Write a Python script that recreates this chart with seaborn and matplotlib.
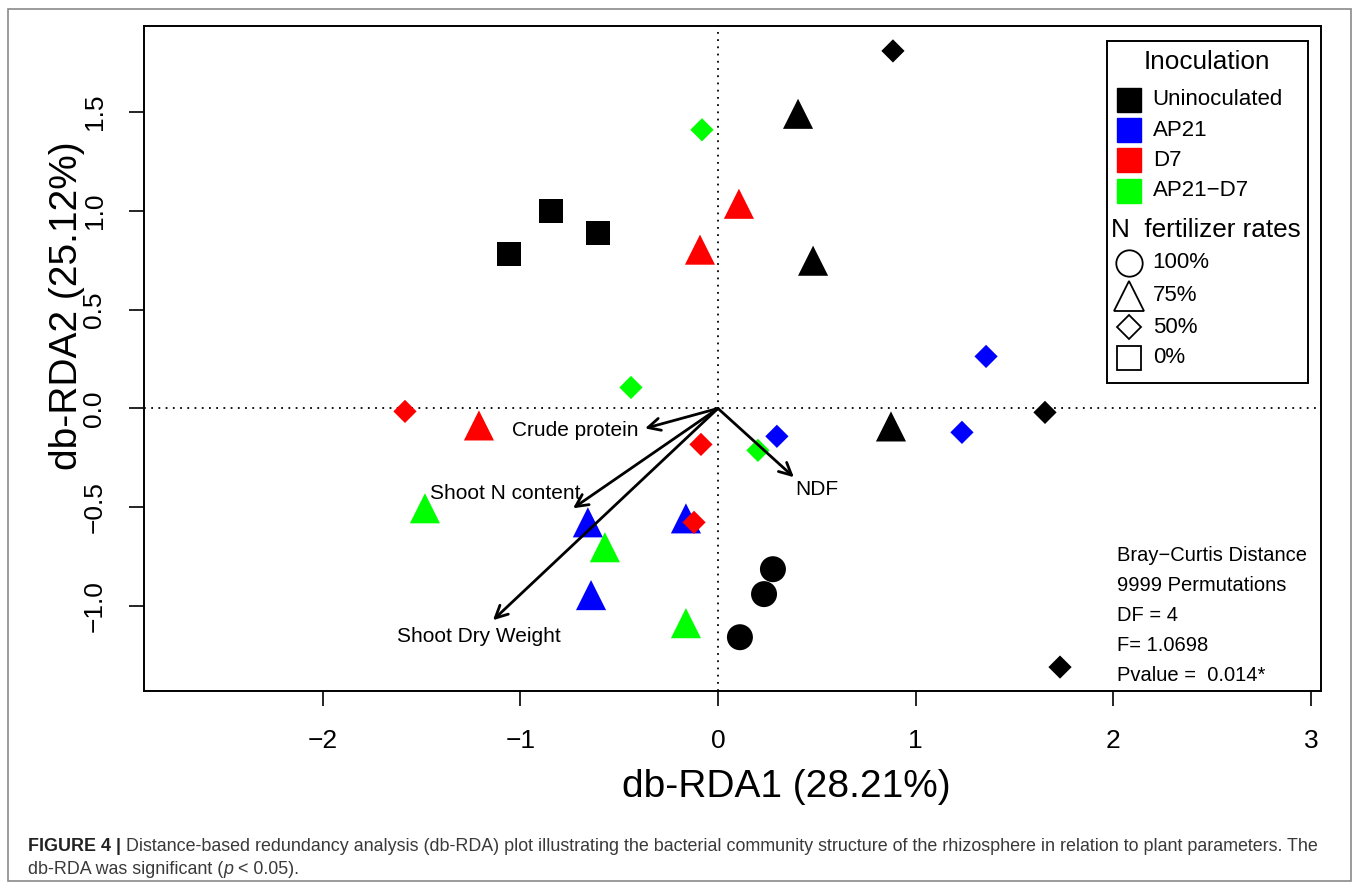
import numpy as np
import pandas as pd
import matplotlib
matplotlib.use("Agg")
import matplotlib.pyplot as plt
import seaborn as sns
from matplotlib.patches import Rectangle
from matplotlib.lines import Line2D

sns.set_style("white")
plt.rcParams["font.family"] = ["Liberation Sans", "DejaVu Sans"]
plt.rcParams.update({"text.color": "black", "axes.labelcolor": "black",
                     "xtick.color": "black", "ytick.color": "black"})

# site scores (db-RDA1, db-RDA2)
rda1 = [-1.057, -0.845, -0.607, 0.405, 0.481, 0.875, 0.885, 1.654, 1.730, 0.111, 0.233, 0.278,   # Uninoculated
        -0.658, -0.642, -0.162, 0.298, 1.234, 1.356,                                             # AP21
        -1.209, -0.091, 0.106, -1.583, -0.086, -0.121,                                           # D7
        -1.482, -0.572, -0.162, -0.081, -0.440, 0.202]                                           # AP21-D7
rda2 = [0.783, 1.000, 0.889, 1.490, 0.747, -0.091, 1.808, -0.020, -1.308, -1.157, -0.939, -0.813,
        -0.576, -0.944, -0.556, -0.141, -0.121, 0.263,
        -0.086, 0.803, 1.035, -0.015, -0.182, -0.576,
        -0.505, -0.702, -1.086, 1.409, 0.106, -0.212]
inoculation = (["Uninoculated"] * 12 + ["AP21"] * 6 + ["D7"] * 6 + ["AP21\u2212D7"] * 6)
n_rate = (["0%"] * 3 + ["75%"] * 3 + ["50%"] * 3 + ["100%"] * 3
          + ["75%"] * 3 + ["50%"] * 3
          + ["75%"] * 3 + ["50%"] * 3
          + ["75%"] * 3 + ["50%"] * 3)

groups = ["Uninoculated", "AP21", "D7", "AP21\u2212D7"]
group_colors = ["#000000", "#0000ff", "#ff0000", "#00ff00"]
rates = ["100%", "75%", "50%", "0%"]
rate_markers = ["o", "^", "D", "s"]
rate_sizes = [350, 470, 140, 300]

# fitted plant parameters (arrows)
env_names = ["Crude protein", "Shoot N content", "Shoot Dry Weight", "NDF"]
env_x = [-0.369, -0.733, -1.138, 0.384]
env_y = [-0.101, -0.505, -1.071, -0.348]
env_lab_x = [-0.723, -1.077, -1.209, 0.501]
env_lab_y = [-0.111, -0.429, -1.152, -0.409]

stats_lines = ["Bray\u2212Curtis Distance", "9999 Permutations", "DF = 4",
               "F= 1.0698", "Pvalue =  0.014*"]

df = pd.DataFrame({"rda1": rda1, "rda2": rda2,
                   "Inoculation": inoculation, "rate": n_rate})

fig = plt.figure(figsize=(13.58, 8.89), dpi=100)
ax = fig.add_axes([144 / 1358, 1 - 691 / 889, 1177 / 1358, 665 / 889])

ax.axhline(0, color="black", ls=(0, (1, 3)), lw=1.3, zorder=1)
ax.axvline(0, color="black", ls=(0, (1, 3)), lw=1.3, zorder=1)

sns.scatterplot(data=df, x="rda1", y="rda2", hue="Inoculation", style="rate",
                size="rate", hue_order=groups, palette=dict(zip(groups, group_colors)),
                markers=dict(zip(rates, rate_markers)), sizes=dict(zip(rates, rate_sizes)),
                linewidth=0, legend=False, ax=ax, zorder=3)

for name, x, y, lx, ly in zip(env_names, env_x, env_y, env_lab_x, env_lab_y):
    ax.annotate("", xy=(x, y), xytext=(0, 0),
                arrowprops=dict(arrowstyle="->", lw=2.0, color="black",
                                mutation_scale=22, shrinkA=0, shrinkB=0), zorder=4)
    ax.text(lx, ly, name, fontsize=15, ha="center", va="center", zorder=5)

ax.set_xlim(-2.903, 3.050)
ax.set_ylim(-1.429, 1.934)
ax.set_xticks([-2, -1, 0, 1, 2, 3])
ax.set_yticks([-1.0, -0.5, 0.0, 0.5, 1.0, 1.5])
ax.tick_params(direction="out", length=11, width=1.2, labelsize=19, pad=16,
               bottom=True, left=True, top=False, right=False, color="black")
ax.tick_params(axis="y", labelrotation=90)
plt.setp(ax.get_yticklabels(), va="center")
for s in ax.spines.values():
    s.set_linewidth(1.4)
    s.set_color("black")
ax.set_xlabel("db-RDA1 (28.21%)", fontsize=28)
ax.set_ylabel("db-RDA2 (25.12%)", fontsize=28)
# the original labels sit off-centre (shifted along the reading direction)
ax.xaxis.set_label_coords(0.546, -0.117)
ax.yaxis.set_label_coords(-0.050, 0.580)

# legend box, drawn by hand in axes fractions
ax.add_patch(Rectangle((0.818, 0.463), 0.171, 0.514, transform=ax.transAxes,
                       fill=False, lw=1.4, ec="black", zorder=6))
ax.text(0.903, 0.946, "Inoculation", transform=ax.transAxes, fontsize=18.8,
        ha="center", va="center", zorder=7)
for i, (g, c) in enumerate(zip(groups, group_colors)):
    yy = 0.889 - i * 0.0455
    ax.add_line(Line2D([0.837], [yy], transform=ax.transAxes, marker="s",
                       markersize=17, color=c, ls="none", zorder=7))
    ax.text(0.857, yy, g, transform=ax.transAxes, fontsize=16, va="center", zorder=7)
ax.text(0.822, 0.693, "N  fertilizer rates", transform=ax.transAxes, fontsize=18.8,
        va="center", zorder=7)
open_sizes = [19, 22, 12, 17.5]
for i, (r, m, ms) in enumerate(zip(rates, rate_markers, open_sizes)):
    yy = [0.644, 0.594, 0.547, 0.501][i]
    ax.add_line(Line2D([0.837], [yy], transform=ax.transAxes, marker=m,
                       markersize=ms, mfc="none", mec="black", mew=1.3,
                       ls="none", zorder=7))
    ax.text(0.857, yy, r, transform=ax.transAxes, fontsize=16, va="center", zorder=7)

for i, line in enumerate(stats_lines):
    ax.text(0.827, 0.2045 - i * 0.0452, line, transform=ax.transAxes,
            fontsize=14.5, va="center", zorder=7)

# outer frame and caption
fig.add_artist(Rectangle((8 / 1358, 1 - 881 / 889), 1343 / 1358, 872 / 889,
                         transform=fig.transFigure, fill=False, lw=1.2, ec="#8a8a8a"))
cap_col = "#3a3a3a"
cap_fs = 12.9
t1 = fig.text(28 / 1358, 1 - 851 / 889, "FIGURE 4 |", fontsize=cap_fs, fontweight="bold",
              color="#222222", va="baseline")
ax.annotate(" Distance-based redundancy analysis (db-RDA) plot illustrating the bacterial "
            "community structure of the rhizosphere in relation to plant parameters. The",
            xy=(1, 0), xycoords=t1, va="bottom", fontsize=cap_fs, color=cap_col,
            annotation_clip=False)
t2 = fig.text(28 / 1358, 1 - 874 / 889, "db-RDA was significant (", fontsize=cap_fs,
              color=cap_col, va="baseline")
t3 = ax.annotate("p", xy=(1, 0), xycoords=t2, va="bottom", fontsize=cap_fs,
                 color=cap_col, style="italic", annotation_clip=False)
ax.annotate(" < 0.05).", xy=(1, 0), xycoords=t3, va="bottom", fontsize=cap_fs,
            color=cap_col, annotation_clip=False)

fig.savefig("out.png", dpi=100)
